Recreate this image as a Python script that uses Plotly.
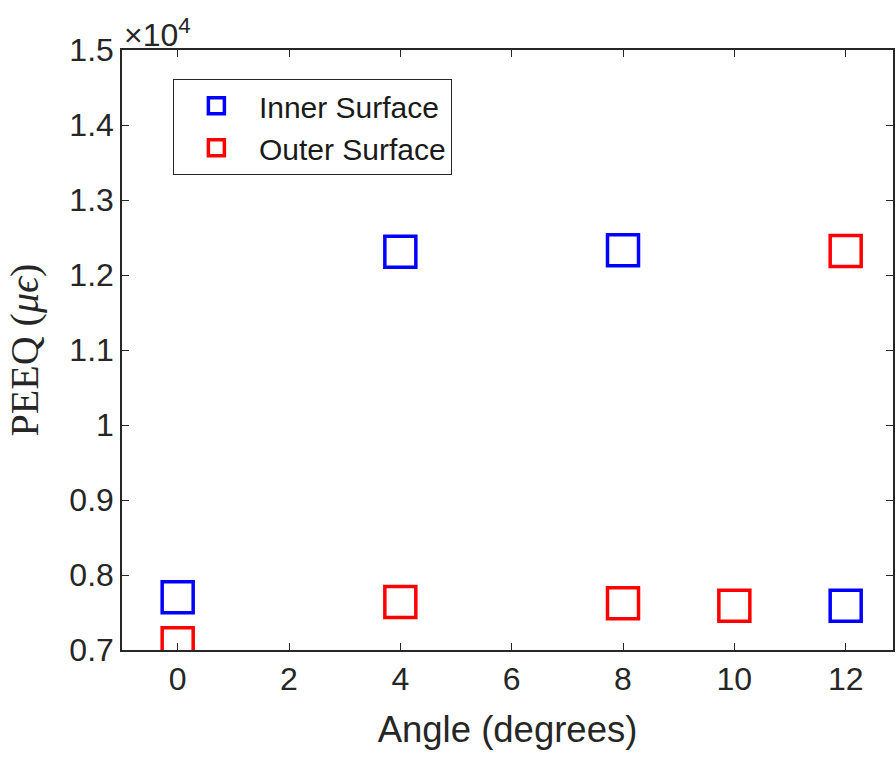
import plotly.graph_objects as go

# Data (PEEQ in microstrain)
inner_angle = [0, 4, 8, 12]
inner_peeq = [7705, 12310, 12330, 7590]
outer_angle = [0, 4, 8, 10, 12]
outer_peeq = [7090, 7640, 7625, 7590, 12320]

x_ticks = [0, 2, 4, 6, 8, 10, 12]
y_tickvals = [7000, 8000, 9000, 10000, 11000, 12000, 13000, 14000, 15000]
y_ticktext = ["0.7", "0.8", "0.9", "1", "1.1", "1.2", "1.3", "1.4", "1.5"]

axcol = "#262626"
font_fam = "Liberation Sans, Arial, sans-serif"

fig = go.Figure()
fig.add_trace(go.Scatter(
    x=inner_angle, y=inner_peeq, mode="markers", name="Inner Surface",
    marker=dict(symbol="square-open", size=31, color="#0000ff", line=dict(width=3.5, color="#0000ff")),
))
fig.add_trace(go.Scatter(
    x=outer_angle, y=outer_peeq, mode="markers", name="Outer Surface",
    marker=dict(symbol="square-open", size=31, color="#ff0000", line=dict(width=3.5, color="#ff0000")),
))

fig.update_layout(
    width=896, height=757,
    margin=dict(l=122, r=1, t=50, b=107),
    paper_bgcolor="white", plot_bgcolor="white",
    font=dict(family=font_fam, color=axcol, size=32),
    showlegend=True,
    legend=dict(
        x=0.066, y=0.952, xanchor="left", yanchor="top",
        bgcolor="white", bordercolor=axcol, borderwidth=1,
        font=dict(size=30, family=font_fam, color="#1a1a1a"),
        itemsizing="trace", tracegroupgap=0, itemwidth=75,
    ),
    xaxis=dict(
        range=[-1, 12.85], tickvals=x_ticks, ticks="inside", ticklen=7,
        tickcolor=axcol, showline=True, linecolor=axcol, linewidth=1.5,
        mirror="ticks", showgrid=False, zeroline=False,
        tickfont=dict(size=32, color=axcol),
        title=dict(text="Angle (degrees)", font=dict(size=36.5, color=axcol), standoff=20),
    ),
    yaxis=dict(
        range=[7000, 15000], tickvals=y_tickvals, ticktext=y_ticktext,
        ticks="inside", ticklen=7, tickcolor=axcol, showline=True,
        linecolor=axcol, linewidth=1.5, mirror="ticks", showgrid=False,
        zeroline=False, tickfont=dict(size=32, color=axcol),
        title=dict(text="PEEQ (<i>μϵ</i>)", font=dict(size=40, color=axcol,
                   family="Liberation Serif, Times New Roman, serif"), standoff=18),
    ),
)

fig.add_annotation(
    xref="paper", yref="paper", x=0.0, y=1.0, xanchor="left", yanchor="bottom",
    text="×10<sup>4</sup>", showarrow=False, font=dict(size=32, color=axcol),
    yshift=-5,
)

fig.write_html("out.html")
